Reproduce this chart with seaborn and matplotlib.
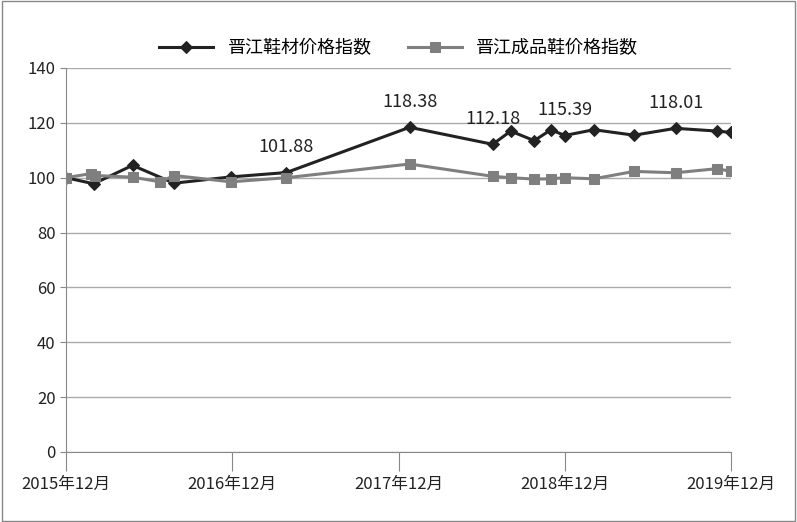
import matplotlib
matplotlib.use("Agg")
import matplotlib.pyplot as plt
from matplotlib import font_manager as fm
import seaborn as sns
import pandas as pd

cjk = [f.name for f in fm.fontManager.ttflist if "CJK" in f.name]
pref = [n for n in cjk if "SC" in n] or cjk
plt.rcParams["font.family"] = (pref[:1] if pref else []) + ["DejaVu Sans"]

m1 = [0, 2, 4.8, 7.8, 11.9, 15.9, 24.8, 30.8, 32.1, 33.8, 35, 36, 38.1, 41, 44, 47, 48]
v1 = [100, 97.8, 104.5, 98, 100.3, 101.88, 118.38, 112.18, 117, 113.5, 117.5, 115.39, 117.5, 115.5, 118.01, 117, 116.5]
m2 = [0, 1.8, 2.1, 4.8, 6.8, 7.8, 11.9, 15.9, 24.8, 30.8, 32.1, 33.8, 35, 36, 38.1, 41, 44, 47, 48]
v2 = [100, 101.5, 100.8, 100.2, 98.5, 100.8, 98.5, 100, 105, 100.5, 100, 99.5, 99.6, 100, 99.6, 102.3, 101.8, 103.3, 102.3]
tick_pos = [0, 12, 24, 36, 48]
tick_labels = ["2015年12月", "2016年12月", "2017年12月", "2018年12月", "2019年12月"]
name1 = "晋江鞋材价格指数"
name2 = "晋江成品鞋价格指数"
labeled = [5, 6, 7, 11, 14]

fig = plt.figure(figsize=(7.97, 5.22), dpi=100)
ax = fig.add_axes([66/797, 1-452/522, (731-66)/797, (452-68)/522])
fig.patches.append(plt.Rectangle((0.002, 0.002), 0.996, 0.996, transform=fig.transFigure,
                                 fill=False, edgecolor="#888888", lw=1))
df1 = pd.DataFrame({"m": m1, "v": v1})
df2 = pd.DataFrame({"m": m2, "v": v2})
sns.lineplot(data=df1, x="m", y="v", ax=ax, color="#222222", lw=2.2, marker="D",
             markersize=6, markeredgecolor="#222222", label=name1)
sns.lineplot(data=df2, x="m", y="v", ax=ax, color="#7f7f7f", lw=2.2, marker="s",
             markersize=7, markeredgecolor="#7f7f7f", label=name2)
for i in labeled:
    ax.text(m1[i], v1[i] + 6, f"{v1[i]:.2f}", ha="center", va="bottom", fontsize=13, color="#222222")
ax.set_xlim(0, 48)
ax.set_ylim(0, 140)
ax.set_yticks(range(0, 141, 20))
ax.set_xticks(tick_pos)
ax.set_xticklabels(tick_labels)
ax.tick_params(axis="both", labelsize=12, colors="#222222")
ax.tick_params(axis="x", length=14, direction="out", color="#888888")
ax.tick_params(axis="y", length=4, color="#888888")
ax.grid(axis="y", color="#aaaaaa", lw=1)
ax.set_axisbelow(True)
for s in ["top", "right"]:
    ax.spines[s].set_visible(False)
for s in ["left", "bottom"]:
    ax.spines[s].set_color("#888888")
ax.set_xlabel("")
ax.set_ylabel("")
ax.legend(loc="lower center", bbox_to_anchor=(0.5, 1.0), ncol=2, frameon=False, fontsize=13,
          handlelength=3, borderaxespad=0.2)
fig.savefig("out.png", dpi=100)
